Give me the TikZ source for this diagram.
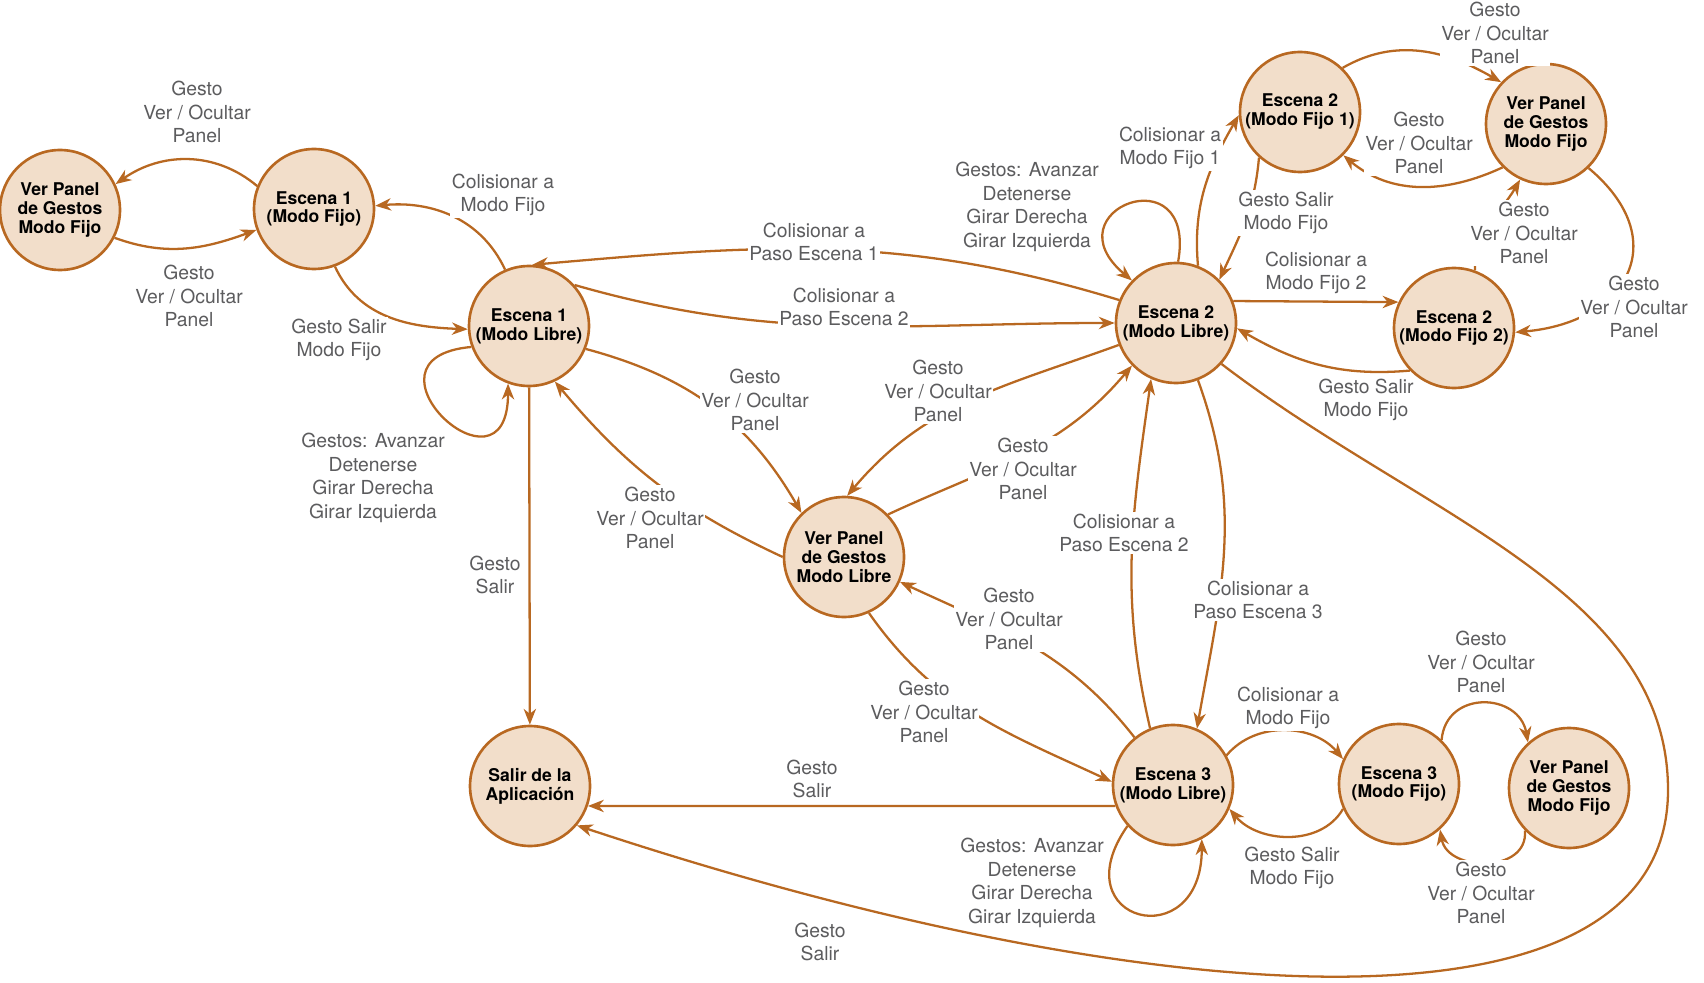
\documentclass[tikz,border=0pt]{standalone}
\usepackage{fontspec}
\setmainfont{TeX Gyre Heros}
\usetikzlibrary{arrows.meta}
\definecolor{borde}{RGB}{184,104,33}
\definecolor{relleno}{RGB}{242,222,202}
\definecolor{gris}{RGB}{92,92,94}
\tikzset{estado/.style={circle, draw=borde, line width=1.5pt, fill=relleno, minimum size=2.4cm, inner sep=0pt, align=center, font=\fontsize{10}{10.8}\selectfont\bfseries}}
\tikzset{flecha/.style={draw=borde, line width=1.3pt, -{Stealth[length=9pt,width=7pt,inset=2.8pt]}}}
\tikzset{etiqueta/.style={fill=white, inner sep=1pt, text=gris, align=center, font=\fontsize{11}{13.4}\selectfont}}

\begin{document}
\begin{tikzpicture}[x=0.02cm, y=0.02cm]
\useasboundingbox (0,0) rectangle (1704,-983);

\node[estado] (vpFijo1) at (60,-210) {Ver Panel\\de Gestos\\Modo Fijo};
\node[estado] (esc1Fijo) at (314,-209) {Escena 1\\(Modo Fijo)};
\node[estado] (esc1Libre) at (529,-326) {Escena 1\\(Modo Libre)};
\node[estado] (vpLibre) at (844,-557) {Ver Panel\\de Gestos\\Modo Libre};
\node[estado] (salir) at (530,-786) {Salir de la\\Aplicación};
\node[estado] (esc2Libre) at (1176,-323) {Escena 2\\(Modo Libre)};
\node[estado] (esc2Fijo1) at (1300,-112) {Escena 2\\(Modo Fijo 1)};
\node[estado] (vpFijo2) at (1546,-124) {Ver Panel\\de Gestos\\Modo Fijo};
\node[estado] (esc2Fijo2) at (1454,-328) {Escena 2\\(Modo Fijo 2)};
\node[estado] (esc3Libre) at (1173,-785) {Escena 3\\(Modo Libre)};
\node[estado] (esc3Fijo) at (1399,-784) {Escena 3\\(Modo Fijo)};
\node[estado] (vpFijo3) at (1569,-788) {Ver Panel\\de Gestos\\Modo Fijo};

\draw[flecha] (esc1Fijo.158) to[out=140,in=35] (vpFijo1.25);
\draw[flecha] (vpFijo1.-27) to[out=-20,in=200] (esc1Fijo.200);
\draw[flecha] (esc1Libre.113) to[out=115,in=5] (esc1Fijo.3);
\draw[flecha] (esc1Fijo.-70) to[out=-65,in=178] (esc1Libre.183);
\draw[flecha] (esc1Libre.200) .. controls +(185:125) and +(270:125) .. (esc1Libre.250);
\draw[flecha] (esc2Libre.158) to[out=163,in=5] (esc1Libre.87);
\draw[flecha] (esc1Libre.42) to[out=-16,in=180] (esc2Libre.180);
\draw[flecha] (esc1Libre.-22) to[out=-15,in=120] (vpLibre.134);
\draw[flecha] (vpLibre.180) to[out=155,in=-50] (esc1Libre.-65);
\draw[flecha] (esc1Libre) -- (salir);
\draw[flecha] (esc2Libre.201) to[out=200,in=50] (vpLibre.87);
\draw[flecha] (vpLibre.44) to[out=25,in=230] (esc2Libre.224);
\draw[flecha] (esc2Libre.88) .. controls +(80:110) and +(140:110) .. (esc2Libre.136);
\draw[flecha] (esc2Libre.69) to[out=95,in=240] (esc2Fijo1.183);
\draw[flecha] (esc2Fijo1.228) to[out=265,in=65] (esc2Libre.45);
\draw[flecha] (esc2Libre.21) -- (esc2Fijo2.155);
\draw[flecha] (esc2Fijo2.224) to[out=185,in=-30] (esc2Libre.-5);
\draw[flecha] (esc2Fijo1.46) to[out=30,in=150] (vpFijo2.137);
\draw[flecha] (vpFijo2.225) to[out=205,in=-40] (esc2Fijo1.-45);
\draw[flecha] (esc2Fijo2.70) to[out=92,in=240] (vpFijo2.245);
\draw[flecha] (vpFijo2.-46) to[out=-40,in=5,looseness=1.6] (esc2Fijo2.-4);
\draw[flecha] (esc2Libre.-69) to[out=-70,in=80] (esc3Libre.67);
\draw[flecha] (esc3Libre.112) to[out=103,in=-98] (esc2Libre.246);
\draw[flecha] (esc3Libre.129) to[out=128,in=-25] (vpLibre.-24);
\draw[flecha] (vpLibre.-66) to[out=-55,in=155] (esc3Libre.177);
\draw[flecha] (esc3Libre.200) -- (salir.-19);
\draw[flecha] (esc2Libre.-42) .. controls (1420,-516) and (1668,-590) .. (1668,-790)
  .. controls (1668,-1050) and (1148,-1015) .. (salir.-40);
\draw[flecha] (esc3Libre.222) .. controls +(235:118) and +(270:118) .. (esc3Libre.-62);
\draw[flecha] (esc3Libre.29) to[out=50,in=130] (esc3Fijo.156);
\draw[flecha] (esc3Fijo.204) to[out=240,in=-50] (esc3Libre.-23);
\draw[flecha] (esc3Fijo.46) to[out=85,in=100,looseness=1.5] (vpFijo3.132);
\draw[flecha] (vpFijo3.224) to[out=-85,in=-80,looseness=1.3] (esc3Fijo.-48);

\node[etiqueta] (l1) at (197,-112) {Gesto\\Ver / Ocultar\\Panel};
\node[etiqueta] (l2) at (189,-296) {Gesto\\Ver / Ocultar\\Panel};
\node[etiqueta] (l3) at (503,-195) {Colisionar a\\Modo Fijo};
\node[etiqueta] (l4) at (339,-340) {Gesto Salir\\Modo Fijo};
\node[etiqueta] (l5) at (373,-478) {Gestos: Avanzar\\Detenerse\\Girar Derecha\\Girar Izquierda};
\node[etiqueta] (l6) at (814,-242) {Colisionar a\\Paso Escena 1};
\node[etiqueta] (l7) at (844,-307) {Colisionar a\\Paso Escena 2};
\node[etiqueta] (l8) at (755,-400) {Gesto\\Ver / Ocultar\\Panel};
\node[etiqueta] (l9) at (650,-518) {Gesto\\Ver / Ocultar\\Panel};
\node[etiqueta] (l10) at (495,-575) {Gesto\\Salir};
\node[etiqueta] (l11) at (938,-391) {Gesto\\Ver / Ocultar\\Panel};
\node[etiqueta] (l12) at (1023,-469) {Gesto\\Ver / Ocultar\\Panel};
\node[etiqueta] (l13) at (1027,-207) {Gestos: Avanzar\\Detenerse\\Girar Derecha\\Girar Izquierda};
\node[etiqueta] (l14) at (1170,-148) {Colisionar a\\Modo Fijo 1};
\node[etiqueta] (l15) at (1286,-213) {Gesto Salir\\Modo Fijo};
\node[etiqueta] (l16) at (1316,-273) {Colisionar a\\Modo Fijo 2};
\node[etiqueta] (l17) at (1366,-400) {Gesto Salir\\Modo Fijo};
\node[etiqueta] (l18) at (1495,-33) {Gesto\\Ver / Ocultar\\Panel};
\node[etiqueta] (l19) at (1419,-143) {Gesto\\Ver / Ocultar\\Panel};
\node[etiqueta] (l20) at (1524,-233) {Gesto\\Ver / Ocultar\\Panel};
\node[etiqueta] (l21) at (1634,-307) {Gesto\\Ver / Ocultar\\Panel};
\node[etiqueta] (l22) at (1258,-600) {Colisionar a\\Paso Escena 3};
\node[etiqueta] (l23) at (1124,-533) {Colisionar a\\Paso Escena 2};
\node[etiqueta] (l24) at (1009,-619) {Gesto\\Ver / Ocultar\\Panel};
\node[etiqueta] (l25) at (924,-712) {Gesto\\Ver / Ocultar\\Panel};
\node[etiqueta] (l26) at (812,-779) {Gesto\\Salir};
\node[etiqueta] (l27) at (820,-942) {Gesto\\Salir};
\node[etiqueta] (l28) at (1032,-883) {Gestos: Avanzar\\Detenerse\\Girar Derecha\\Girar Izquierda};
\node[etiqueta] (l29) at (1288,-708) {Colisionar a\\Modo Fijo};
\node[etiqueta] (l30) at (1292,-868) {Gesto Salir\\Modo Fijo};
\node[etiqueta] (l31) at (1481,-662) {Gesto\\Ver / Ocultar\\Panel};
\node[etiqueta] (l32) at (1481,-893) {Gesto\\Ver / Ocultar\\Panel};

\end{tikzpicture}
\end{document}
